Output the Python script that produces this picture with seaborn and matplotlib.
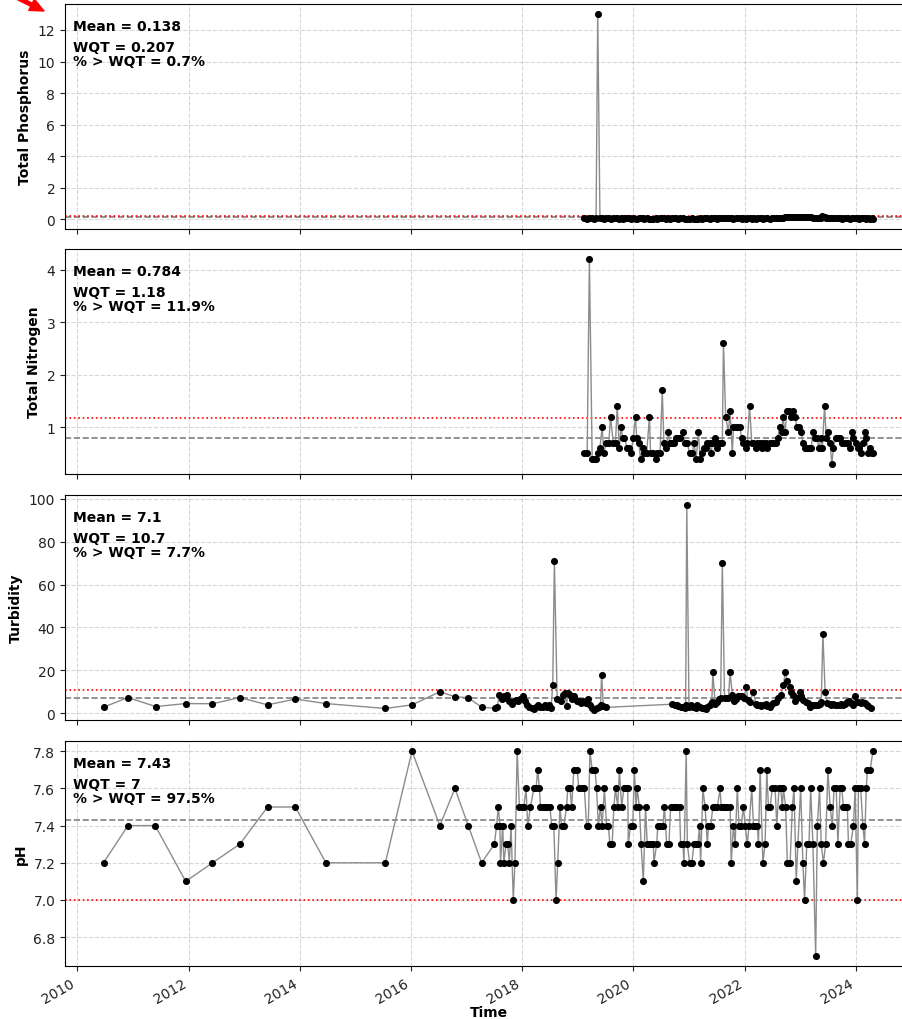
import numpy as np
import pandas as pd
import matplotlib
matplotlib.use("Agg")
import matplotlib.pyplot as plt
import matplotlib.dates as mdates
import seaborn as sns

# ---------------- data (decimal years, values) ----------------
nutrient_years = [
    2019.12, 2019.17, 2019.21, 2019.26, 2019.29, 2019.33, 2019.36, 2019.40, 2019.44, 2019.47,
    2019.51, 2019.56, 2019.59, 2019.64, 2019.68, 2019.71, 2019.75, 2019.78, 2019.81, 2019.84,
    2019.89, 2019.93, 2019.96, 2020.00, 2020.04, 2020.06, 2020.10, 2020.13, 2020.17, 2020.20,
    2020.24, 2020.29, 2020.31, 2020.36, 2020.40, 2020.43, 2020.48, 2020.52, 2020.55, 2020.59,
    2020.63, 2020.66, 2020.70, 2020.73, 2020.77, 2020.81, 2020.84, 2020.89, 2020.93, 2020.97,
    2021.01, 2021.06, 2021.09, 2021.13, 2021.17, 2021.20, 2021.24, 2021.27, 2021.30, 2021.33,
    2021.37, 2021.39, 2021.43, 2021.47, 2021.50, 2021.53, 2021.56, 2021.60, 2021.62, 2021.66,
    2021.71, 2021.74, 2021.78, 2021.80, 2021.84, 2021.87, 2021.91, 2021.95, 2021.98, 2022.02,
    2022.05, 2022.09, 2022.13, 2022.16, 2022.20, 2022.23, 2022.27, 2022.31, 2022.34, 2022.38,
    2022.41, 2022.45, 2022.49, 2022.52, 2022.56, 2022.60, 2022.63, 2022.67, 2022.69, 2022.73,
    2022.76, 2022.80, 2022.84, 2022.87, 2022.91, 2022.94, 2022.98, 2023.02, 2023.05, 2023.09,
    2023.12, 2023.16, 2023.20, 2023.23, 2023.27, 2023.30, 2023.34, 2023.38, 2023.40, 2023.44,
    2023.47, 2023.51, 2023.54, 2023.57, 2023.60, 2023.64, 2023.68, 2023.71, 2023.75, 2023.78,
    2023.82, 2023.86, 2023.89, 2023.93, 2023.96, 2024.00, 2024.04, 2024.06, 2024.10, 2024.13,
    2024.16, 2024.19, 2024.23, 2024.26, 2024.30, 2024.32,
]

tp_values = [
    0.05, 0.04, 0.06, 0.05, 0.04, 0.05, 13.0, 0.06, 0.05, 0.04,
    0.05, 0.06, 0.04, 0.05, 0.05, 0.06, 0.04, 0.05, 0.04, 0.05,
    0.06, 0.05, 0.04, 0.05, 0.03, 0.04, 0.05, 0.06, 0.05, 0.04,
    0.05, 0.04, 0.03, 0.04, 0.05, 0.04, 0.05, 0.06, 0.05, 0.04,
    0.05, 0.04, 0.05, 0.06, 0.05, 0.04, 0.05, 0.05, 0.04, 0.03,
    0.04, 0.05, 0.04, 0.03, 0.04, 0.05, 0.04, 0.05, 0.06, 0.05,
    0.04, 0.05, 0.06, 0.05, 0.04, 0.05, 0.06, 0.05, 0.07, 0.06,
    0.05, 0.06, 0.05, 0.04, 0.05, 0.06, 0.05, 0.04, 0.05, 0.04,
    0.05, 0.06, 0.04, 0.05, 0.04, 0.05, 0.06, 0.05, 0.04, 0.05,
    0.05, 0.04, 0.05, 0.06, 0.05, 0.06, 0.07, 0.08, 0.10, 0.12,
    0.14, 0.12, 0.13, 0.15, 0.12, 0.13, 0.12, 0.14, 0.12, 0.13,
    0.12, 0.14, 0.13, 0.10, 0.07, 0.06, 0.07, 0.09, 0.18, 0.12,
    0.07, 0.07, 0.06, 0.05, 0.06, 0.05, 0.06, 0.05, 0.04, 0.05,
    0.06, 0.05, 0.04, 0.05, 0.06, 0.07, 0.05, 0.04, 0.05, 0.06,
    0.05, 0.04, 0.05, 0.04, 0.05, 0.04,
]

tn_values = [
    0.5, 0.5, 4.2, 0.4, 0.4, 0.4, 0.5, 0.6, 1.0, 0.5,
    0.7, 0.7, 1.2, 0.7, 0.7, 1.4, 0.6, 1.0, 0.8, 0.8,
    0.6, 0.6, 0.5, 0.8, 1.2, 0.8, 0.7, 0.4, 0.6, 0.5,
    0.5, 1.2, 0.5, 0.5, 0.4, 0.5, 0.5, 1.7, 0.7, 0.6,
    0.9, 0.7, 0.7, 0.7, 0.8, 0.8, 0.8, 0.9, 0.7, 0.7,
    0.5, 0.5, 0.7, 0.4, 0.9, 0.4, 0.5, 0.6, 0.6, 0.7,
    0.7, 0.5, 0.7, 0.8, 0.6, 0.7, 0.7, 0.7, 2.6, 1.2,
    0.9, 1.3, 0.5, 1.0, 1.0, 1.0, 1.0, 0.8, 0.7, 0.6,
    0.7, 1.4, 0.7, 0.7, 0.6, 0.7, 0.7, 0.6, 0.7, 0.7,
    0.6, 0.7, 0.7, 0.7, 0.7, 0.8, 1.0, 0.9, 1.2, 0.9,
    1.3, 1.3, 1.2, 1.3, 1.2, 1.0, 1.0, 0.9, 0.7, 0.6,
    0.6, 0.6, 0.6, 0.9, 0.8, 0.8, 0.6, 0.8, 0.6, 1.4,
    0.8, 0.9, 0.7, 0.3, 0.6, 0.8, 0.8, 0.8, 0.7, 0.7,
    0.7, 0.7, 0.6, 0.9, 0.8, 0.7, 0.6, 0.6, 0.5, 0.7,
    0.9, 0.8, 0.5, 0.6, 0.5, 0.5,
]

turb_years = [
    2010.47, 2010.91, 2011.41, 2011.95, 2012.43, 2012.92, 2013.42, 2013.92, 2014.47, 2015.54,
    2016.02, 2016.52, 2016.79, 2017.03, 2017.27,
    2017.52, 2017.55, 2017.59, 2017.63, 2017.67, 2017.71, 2017.73, 2017.77, 2017.81, 2017.85,
    2017.89, 2017.93, 2017.97, 2018.01, 2018.05, 2018.09, 2018.13, 2018.17, 2018.21, 2018.25,
    2018.29, 2018.33, 2018.37, 2018.41, 2018.45, 2018.49, 2018.52, 2018.55, 2018.58, 2018.63,
    2018.69, 2018.73, 2018.77, 2018.80, 2018.82, 2018.86, 2018.90, 2018.94, 2018.98, 2019.02,
    2019.06, 2019.10, 2019.14, 2019.18, 2019.22, 2019.26, 2019.30, 2019.34, 2019.38, 2019.41,
    2019.43, 2019.46, 2019.50,
    2020.70, 2020.74, 2020.78, 2020.81, 2020.85, 2020.89, 2020.92, 2020.94, 2020.96, 2021.00,
    2021.04, 2021.08, 2021.12, 2021.15, 2021.19, 2021.23, 2021.26, 2021.30, 2021.33, 2021.37,
    2021.41, 2021.43, 2021.47, 2021.50, 2021.54, 2021.57, 2021.60, 2021.64, 2021.68, 2021.71,
    2021.74, 2021.78, 2021.81, 2021.85, 2021.88, 2021.92, 2021.96, 2021.99, 2022.03, 2022.06,
    2022.10, 2022.16, 2022.20, 2022.23, 2022.27, 2022.30, 2022.34, 2022.38, 2022.41, 2022.45,
    2022.48, 2022.52, 2022.56, 2022.60, 2022.65, 2022.70, 2022.73, 2022.77, 2022.81, 2022.84,
    2022.88, 2022.91, 2022.95, 2022.99, 2023.02, 2023.06, 2023.11, 2023.14, 2023.18, 2023.21,
    2023.25, 2023.29, 2023.32, 2023.36, 2023.38, 2023.41, 2023.45, 2023.49, 2023.53, 2023.56,
    2023.60, 2023.63, 2023.67, 2023.71, 2023.74, 2023.78, 2023.81, 2023.85, 2023.88, 2023.92,
    2023.96, 2023.98, 2024.02, 2024.05, 2024.09, 2024.12, 2024.16, 2024.20, 2024.23, 2024.27,
]

turb_values = [
    2.8, 7.3, 3.1, 4.5, 4.4, 7.3, 3.9, 6.6, 4.5, 2.2,
    3.9, 10.0, 7.7, 7.2, 2.8,
    2.3, 3.0, 8.3, 6.7, 8.0, 7.0, 8.6, 5.5, 4.2, 5.5,
    6.1, 5.5, 6.7, 7.8, 5.8, 3.9, 3.1, 2.3, 1.9, 2.7,
    3.6, 2.7, 3.0, 3.9, 2.7, 3.6, 2.3, 13.0, 71.0, 6.7,
    5.5, 8.3, 9.4, 3.4, 9.5, 8.3, 6.7, 7.8, 5.8, 5.5,
    4.7, 5.8, 4.7, 6.4, 3.9, 2.3, 1.6, 2.3, 3.0, 3.6,
    18.0, 3.4, 2.7,
    4.2, 3.9, 3.6, 3.3, 3.1, 3.0, 2.6, 3.6, 97.0, 3.0,
    3.9, 3.1, 2.6, 3.6, 3.0, 2.6, 2.3, 2.0, 3.0, 3.9,
    5.4, 19.0, 4.2, 5.4, 6.7, 7.0, 70.0, 7.3, 7.0, 7.0,
    19.0, 8.5, 5.7, 6.7, 7.8, 7.8, 7.8, 7.0, 12.0, 6.2,
    5.4, 10.0, 4.5, 3.7, 4.0, 3.4, 3.6, 4.2, 3.4, 3.1,
    3.9, 4.7, 5.4, 7.0, 8.5, 13.0, 19.0, 15.0, 12.0, 10.0,
    8.5, 5.7, 7.3, 9.8, 7.8, 6.2, 5.4, 4.7, 3.1, 3.9,
    3.6, 3.9, 3.6, 4.2, 5.4, 37.0, 10.0, 4.7, 4.2, 3.9,
    4.2, 3.9, 3.9, 3.9, 4.2, 3.9, 4.2, 5.4, 5.7, 4.7,
    3.9, 7.8, 5.4, 5.4, 4.7, 5.4, 4.7, 3.9, 3.3, 2.6,
]

ph_years = [
    2010.47, 2010.91, 2011.40, 2011.95, 2012.43, 2012.92, 2013.42, 2013.92, 2014.47, 2015.54,
    2016.02, 2016.52, 2016.79, 2017.03, 2017.27,
    2017.50, 2017.54, 2017.57, 2017.60, 2017.61, 2017.65, 2017.67, 2017.71, 2017.74, 2017.77,
    2017.80, 2017.84, 2017.87, 2017.91, 2017.95, 2017.99, 2018.03, 2018.07, 2018.10, 2018.15,
    2018.21, 2018.25, 2018.28, 2018.31, 2018.33, 2018.38, 2018.41, 2018.45, 2018.50, 2018.53,
    2018.57, 2018.61, 2018.64, 2018.68, 2018.71, 2018.75, 2018.80, 2018.82, 2018.86, 2018.89,
    2018.93, 2018.99, 2019.02, 2019.07, 2019.12, 2019.16, 2019.19, 2019.22, 2019.26, 2019.31,
    2019.34, 2019.37, 2019.41, 2019.44, 2019.48, 2019.52, 2019.55, 2019.58, 2019.62, 2019.65,
    2019.68, 2019.72, 2019.75, 2019.79, 2019.83, 2019.86, 2019.90, 2019.91,
    2019.95, 2019.99, 2020.02, 2020.05, 2020.07, 2020.11, 2020.14, 2020.18, 2020.22, 2020.25,
    2020.29, 2020.32, 2020.36, 2020.37, 2020.42, 2020.44, 2020.48, 2020.53, 2020.56, 2020.60,
    2020.64, 2020.67, 2020.71, 2020.74, 2020.79, 2020.83, 2020.85, 2020.89, 2020.91, 2020.95,
    2020.97, 2021.01, 2021.05, 2021.09, 2021.13, 2021.16, 2021.19, 2021.21, 2021.25, 2021.29,
    2021.33, 2021.35, 2021.39, 2021.43, 2021.46, 2021.51, 2021.56, 2021.58, 2021.62, 2021.65,
    2021.69, 2021.74, 2021.76, 2021.80, 2021.83, 2021.87, 2021.90, 2021.94, 2021.98, 2022.01,
    2022.05, 2022.08, 2022.13, 2022.16, 2022.19, 2022.23, 2022.25, 2022.28,
    2022.33, 2022.37, 2022.40, 2022.43, 2022.46, 2022.50, 2022.55, 2022.58, 2022.62, 2022.65,
    2022.68, 2022.70, 2022.74, 2022.77, 2022.82, 2022.86, 2022.89, 2022.93, 2022.96, 2023.01,
    2023.05, 2023.08, 2023.12, 2023.16, 2023.19, 2023.23, 2023.28, 2023.31, 2023.35, 2023.38,
    2023.42, 2023.46, 2023.50, 2023.54, 2023.58, 2023.61, 2023.65, 2023.68, 2023.72, 2023.75,
    2023.78, 2023.81, 2023.85, 2023.87, 2023.91, 2023.96, 2023.99, 2024.03, 2024.05, 2024.09,
    2024.13, 2024.16, 2024.19, 2024.21, 2024.26, 2024.31,
]

ph_values = [
    7.2, 7.4, 7.4, 7.1, 7.2, 7.3, 7.5, 7.5, 7.2, 7.2,
    7.8, 7.4, 7.6, 7.4, 7.2,
    7.3, 7.4, 7.5, 7.4, 7.2, 7.4, 7.2, 7.3, 7.3, 7.2,
    7.4, 7.0, 7.2, 7.8, 7.5, 7.5, 7.5, 7.6, 7.4, 7.5,
    7.6, 7.6, 7.7, 7.6, 7.5, 7.5, 7.5, 7.5, 7.5, 7.4,
    7.4, 7.0, 7.2, 7.5, 7.4, 7.4, 7.5, 7.6, 7.6, 7.5,
    7.7, 7.7, 7.6, 7.6, 7.6, 7.4, 7.4, 7.8, 7.7, 7.7,
    7.6, 7.4, 7.5, 7.4, 7.6, 7.4, 7.4, 7.3, 7.3, 7.5,
    7.6, 7.5, 7.7, 7.5, 7.6, 7.6, 7.6, 7.3,
    7.4, 7.4, 7.7, 7.5, 7.6, 7.5, 7.3, 7.1, 7.5, 7.3,
    7.3, 7.3, 7.3, 7.2, 7.3, 7.4, 7.4, 7.4, 7.5, 7.3,
    7.3, 7.5, 7.5, 7.5, 7.5, 7.5, 7.3, 7.3, 7.2, 7.8,
    7.3, 7.2, 7.2, 7.3, 7.3, 7.3, 7.4, 7.2, 7.6, 7.5,
    7.3, 7.4, 7.4, 7.5, 7.5, 7.5, 7.6, 7.5, 7.5, 7.5,
    7.5, 7.5, 7.2, 7.4, 7.3, 7.6, 7.4, 7.4, 7.5, 7.4,
    7.3, 7.4, 7.6, 7.4, 7.4, 7.4, 7.3, 7.7,
    7.2, 7.3, 7.7, 7.5, 7.5, 7.6, 7.6, 7.4, 7.6, 7.6,
    7.5, 7.6, 7.5, 7.2, 7.2, 7.5, 7.6, 7.1, 7.3, 7.6,
    7.2, 7.0, 7.3, 7.3, 7.6, 7.3, 6.7, 7.4, 7.6, 7.3,
    7.2, 7.3, 7.7, 7.5, 7.4, 7.6, 7.6, 7.3, 7.6, 7.6,
    7.5, 7.5, 7.5, 7.3, 7.3, 7.4, 7.6, 7.0, 7.6, 7.6,
    7.4, 7.3, 7.6, 7.7, 7.7, 7.8,
]

param_names = ["Total Phosphorus", "Total Nitrogen", "Turbidity", "pH"]
mean_values = [0.138, 0.784, 7.1, 7.43]
wqt_values = [0.207, 1.18, 10.7, 7]
mean_labels = ["0.138", "0.784", "7.1", "7.43"]
wqt_labels = ["0.207", "1.18", "10.7", "7"]
pct_labels = ["0.7%", "11.9%", "7.7%", "97.5%"]


def to_dates(years):
    out = []
    for y in years:
        yr = int(np.floor(y))
        start = pd.Timestamp(year=yr, month=1, day=1)
        end = pd.Timestamp(year=yr + 1, month=1, day=1)
        out.append(start + (end - start) * (y - yr))
    return pd.DatetimeIndex(out)


series = [
    (to_dates(nutrient_years), tp_values),
    (to_dates(nutrient_years), tn_values),
    (to_dates(turb_years), turb_values),
    (to_dates(ph_years), ph_values),
]

sns.set_style("ticks")
plt.rcParams["font.family"] = ["DejaVu Sans"]
plt.rcParams["text.color"] = "black"
plt.rcParams["axes.labelcolor"] = "black"

W, H = 902, 1020
fig = plt.figure(figsize=(W / 100, H / 100), dpi=100)

left_px, right_px = 65, 912
tops = [5, 250, 496, 742]
ph_h = 225
axes = []
for i, top in enumerate(tops):
    rect = [left_px / W, 1 - (top + ph_h) / H, (right_px - left_px) / W, ph_h / H]
    ax = fig.add_axes(rect, sharex=axes[0] if axes else None)
    axes.append(ax)

for i, ax in enumerate(axes):
    dates, vals = series[i]
    df = pd.DataFrame({"Time": dates, "value": vals})
    sns.lineplot(data=df, x="Time", y="value", ax=ax, color="#8c8c8c", lw=1.0,
                 estimator=None, sort=False, zorder=2)
    sns.scatterplot(data=df, x="Time", y="value", ax=ax, color="black", s=26,
                    linewidth=0, zorder=3)
    ax.axhline(mean_values[i], color="gray", ls="--", lw=1.2, zorder=1)
    ax.axhline(wqt_values[i], color="red", ls=":", lw=1.2, zorder=1)
    ax.grid(True, ls="--", color="#b0b0b0", alpha=0.5, lw=0.8)
    ax.set_ylabel(param_names[i], fontsize=10, fontweight="bold", color="black")
    ax.text(0.01, 0.935, f"Mean = {mean_labels[i]}", transform=ax.transAxes,
            fontsize=10, fontweight="bold", va="top", ha="left", color="black")
    ax.text(0.01, 0.842, f"WQT = {wqt_labels[i]}\n% > WQT = {pct_labels[i]}",
            transform=ax.transAxes, fontsize=10, fontweight="bold", va="top",
            ha="left", linespacing=1.05, color="black")
    for sp in ax.spines.values():
        sp.set_color("black")
        sp.set_linewidth(0.8)
    ax.tick_params(colors="#222222", labelcolor="#222222", labelsize=10)
    if i < 3:
        ax.set_xlabel("")
        ax.tick_params(labelbottom=False)

ax = axes[-1]
ax.xaxis.set_major_locator(mdates.YearLocator(2))
ax.xaxis.set_major_formatter(mdates.DateFormatter("%Y"))
ax.set_xlabel("Time", fontsize=10, fontweight="bold", color="black", labelpad=0)
plt.setp(ax.get_xticklabels(), rotation=30, ha="right")

axes[0].annotate("", xy=(44, H - 12), xycoords="figure pixels",
                 xytext=(4, H + 8), textcoords="figure pixels",
                 arrowprops=dict(color="red", width=2.5, headwidth=9, headlength=10),
                 annotation_clip=False)

fig.savefig("out.png", dpi=100)
